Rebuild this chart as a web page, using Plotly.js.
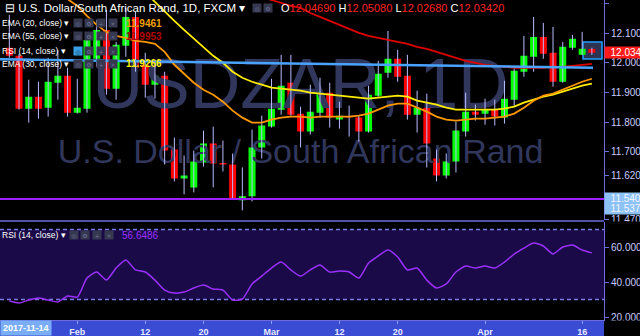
<!DOCTYPE html>
<html><head><meta charset="utf-8">
<script src="https://cdn.plot.ly/plotly-3.0.1.min.js"></script>
<style>html,body{margin:0;padding:0;background:#000;overflow:hidden}#chart{width:640px;height:336px}</style>
</head><body><div id="chart"></div>
<script>
const dates = ['2018-01-23','2018-01-24','2018-01-25','2018-01-26','2018-01-29','2018-01-30','2018-01-31','2018-02-01','2018-02-02','2018-02-05','2018-02-06','2018-02-07','2018-02-08','2018-02-09','2018-02-12','2018-02-13','2018-02-14','2018-02-15','2018-02-16','2018-02-19','2018-02-20','2018-02-21','2018-02-22','2018-02-23','2018-02-26','2018-02-27','2018-02-28','2018-03-01','2018-03-02','2018-03-05','2018-03-06','2018-03-07','2018-03-08','2018-03-09','2018-03-12','2018-03-13','2018-03-14','2018-03-15','2018-03-16','2018-03-19','2018-03-20','2018-03-21','2018-03-22','2018-03-23','2018-03-26','2018-03-27','2018-03-28','2018-03-29','2018-03-30','2018-04-02','2018-04-03','2018-04-04','2018-04-05','2018-04-06','2018-04-09','2018-04-10','2018-04-11','2018-04-12','2018-04-13','2018-04-16','2018-04-17'];
const openP = [12.0505,12.0236,11.8451,11.8855,11.8485,11.9327,11.9562,11.8316,11.8451,12.0135,12.1111,11.9125,12.0572,12.1549,11.9933,11.9259,11.9562,11.7071,11.6094,11.5791,11.6633,11.7273,11.6616,11.6566,11.5354,11.5488,11.7138,11.7845,11.8418,11.9327,11.8283,11.7677,11.8316,11.8990,11.8081,11.8199,11.8148,11.7677,11.8889,11.9663,12.0135,11.9562,11.8249,11.8485,11.6768,11.6195,11.6667,11.7677,11.8350,11.8283,11.8418,11.8148,11.8754,11.9697,12.0202,12.0875,12.0337,11.9360,12.0505,12.0269,12.0469];
const highP = [12.1616,12.0303,11.9428,11.9360,12.0168,12.0438,11.9832,11.9461,12.1010,12.1448,12.1785,12.0707,12.1852,12.1717,12.0337,11.9966,11.9697,11.7475,11.6869,11.7037,11.7710,11.7845,11.7374,11.6936,11.6465,11.7744,11.8215,11.9461,12.0269,12.0269,11.8519,11.9259,11.9495,11.9327,11.8687,11.8552,11.8215,11.9226,12.0067,12.1077,12.0438,12.0269,11.9057,11.8956,11.7071,11.6936,11.8013,11.8990,11.8586,11.8788,11.8754,11.9394,11.9865,12.0909,12.1549,12.1347,12.1212,12.0707,12.0943,12.1044,12.0508];
const lowP = [12.0168,11.8418,11.7980,11.8114,11.8182,11.8754,11.8182,11.8283,11.8316,11.9865,11.8923,11.8754,12.0202,11.9697,11.8822,11.8788,11.6566,11.5993,11.5556,11.5623,11.6498,11.5791,11.6330,11.5371,11.5017,11.5320,11.6768,11.7811,11.8249,11.8215,11.7138,11.7576,11.8148,11.7811,11.7778,11.7508,11.7340,11.7643,11.8855,11.9495,11.9360,11.8081,11.7643,11.6465,11.5993,11.6094,11.6296,11.7508,11.8047,11.7912,11.7879,11.7946,11.8519,11.9529,11.9697,12.0135,11.9192,11.9327,12.0438,12.0260,12.0268];
const closeP = [12.0236,11.8451,11.8855,11.8451,11.9360,11.9562,11.8316,11.8485,12.0774,12.1111,11.9125,12.0606,12.1549,11.9832,11.9259,11.9562,11.7037,11.6094,11.6195,11.6667,11.7273,11.6599,11.6566,11.5387,11.5488,11.7138,11.7879,11.8451,11.9226,11.8249,11.7677,11.8350,11.8990,11.8148,11.8215,11.8148,11.7677,11.8923,11.9630,12.0135,11.9529,11.8249,11.8485,11.7273,11.6195,11.6667,11.7710,11.8350,11.8249,11.8418,11.8182,11.8788,11.9731,12.0236,12.0875,12.0303,11.9360,12.0539,12.0808,12.0471,12.0342];
const ema20 = [12.4646,12.4141,12.3636,12.3199,12.2795,12.2424,12.2155,12.1919,12.1582,12.1280,12.1044,12.0909,12.0842,12.0741,12.0707,12.0640,12.0370,11.9933,11.9630,11.9327,11.9091,11.8923,11.8687,11.8384,11.8148,11.7980,11.7980,11.8081,11.8148,11.8182,11.8182,11.8148,11.8182,11.8182,11.8182,11.8182,11.8215,11.8283,11.8418,11.8552,11.8620,11.8620,11.8485,11.8350,11.8182,11.8081,11.8047,11.8081,11.8114,11.8114,11.8148,11.8182,11.8283,11.8485,11.8720,11.8889,11.8956,11.9091,11.9226,11.9360,11.9461];
const ema30 = [12.7071,12.6734,12.6397,12.6061,12.5724,12.5387,12.5051,12.4714,12.4377,12.4040,12.3704,12.3367,12.3030,12.2694,12.2391,12.2054,12.1717,12.1414,12.1111,12.0808,12.0539,12.0236,12.0000,11.9697,11.9495,11.9360,11.9259,11.9158,11.9125,11.9091,11.9057,11.8990,11.8956,11.8923,11.8889,11.8855,11.8822,11.8788,11.8822,11.8855,11.8889,11.8855,11.8720,11.8653,11.8586,11.8485,11.8418,11.8418,11.8418,11.8418,11.8418,11.8451,11.8519,11.8653,11.8754,11.8855,11.8923,11.9024,11.9125,11.9226,11.9293];
const ema55 = [12.5724,12.5589,12.5455,12.5320,12.5185,12.5051,12.4916,12.4781,12.4646,12.4512,12.4377,12.4242,12.4108,12.3973,12.3838,12.3704,12.3569,12.3434,12.3300,12.3165,12.3030,12.2896,12.2761,12.2626,12.2492,12.2357,12.2222,12.2121,12.2020,12.1919,12.1852,12.1683,12.1549,12.1414,12.1280,12.1145,12.1010,12.0909,12.0842,12.0774,12.0707,12.0640,12.0539,12.0471,12.0370,12.0269,12.0168,12.0067,12.0000,11.9933,11.9899,11.9865,11.9832,11.9832,11.9832,11.9832,11.9865,11.9865,11.9899,11.9933,11.9966];
const rsi14 = [29.1,28.0,29.7,30.9,29.7,28.6,32.0,31.4,42.3,45.7,41.1,48.0,52.6,46.9,45.7,41.1,35.4,33.7,34.3,36.6,38.3,36.0,35.4,29.7,30.3,38.9,43.4,48.0,51.4,46.9,43.4,46.9,49.7,45.7,46.3,45.7,42.3,50.9,54.9,58.3,54.3,46.9,48.0,41.1,36.6,38.9,45.7,49.1,48.0,49.1,48.0,51.4,56.0,59.4,62.3,60.6,56.0,60.0,61.1,58.3,56.6486];
const priceTickVals = [12.2,12.1,12.0,11.9,11.8,11.7,11.62,11.47];
const priceTickText = ['12.20000','12.10000','12.00000','11.90000','11.80000','11.70000','11.62000','11.47000'];
const rsiTickVals = [60,40,20];
const rsiTickText = ['60.0000','40.0000','20.0000'];
const dateTickVals = ['2018-02-01','2018-02-12','2018-02-20','2018-03-01','2018-03-12','2018-03-20','2018-04-02','2018-04-16'];
const dateTickText = ['Feb','12','20','Mar','12','20','Apr','16'];
const supportLevels = [11.54028, 11.53705];
const trendLine = [12.0118, 11.9832];
const rsiBands = [70, 30];
const lastOHLC = ['12.04690','12.05080','12.02680','12.03420'];
const legendValues = ['11.9461','11.9953','11.9266','56.6486'];

const FONT = 'Liberation Sans, Arial, sans-serif';
const W = 604, H = 320;
const wickX = [], wickY = [];
dates.forEach((d,i)=>{ wickX.push(d,d,null); wickY.push(lowP[i],highP[i],null); });

const traces = [
  {type:'scatter',mode:'lines',x:dates,y:closeP,line:{width:0},opacity:0,hoverinfo:'skip',xaxis:'x',yaxis:'y'},
  {type:'scatter',mode:'text',x:[dates[30]],y:[11.9057],text:['USDZAR, 1D'],textposition:'middle center',
   textfont:{size:70,color:'#31375c',family:FONT},hoverinfo:'skip',cliponaxis:false,xaxis:'x',yaxis:'y'},
  {type:'scatter',mode:'text',x:[dates[30]],y:[11.6902],text:['U.S. Dollar / South African Rand'],textposition:'middle center',
   textfont:{size:34,color:'#31375c',family:FONT},hoverinfo:'skip',cliponaxis:false,xaxis:'x',yaxis:'y'},
  {type:'scatter',mode:'lines',x:wickX,y:wickY,line:{color:'#b9bcff',width:1},hoverinfo:'skip',xaxis:'x',yaxis:'y',connectgaps:false},
  {type:'candlestick',x:dates,open:openP,high:highP,low:lowP,close:closeP,xaxis:'x',yaxis:'y',
   increasing:{line:{color:'#00ff00',width:0},fillcolor:'#00ff00'},
   decreasing:{line:{color:'#ff0000',width:0},fillcolor:'#ff0000'},hoverinfo:'skip'},
  {type:'scatter',mode:'lines',x:dates,y:ema55,line:{color:'#e00000',width:1.8},hoverinfo:'skip',xaxis:'x',yaxis:'y'},
  {type:'scatter',mode:'lines',x:dates,y:ema30,line:{color:'#ffee00',width:1.8},hoverinfo:'skip',xaxis:'x',yaxis:'y'},
  {type:'scatter',mode:'lines',x:dates,y:ema20,line:{color:'#ff9800',width:1.8},hoverinfo:'skip',xaxis:'x',yaxis:'y'},
  {type:'scatter',mode:'lines',x:dates,y:rsi14,line:{color:'#9b30ff',width:1.5,shape:'spline',smoothing:0.6},hoverinfo:'skip',xaxis:'x',yaxis:'y2'}
];

function ann(px,py,text,opts){
  return Object.assign({xref:'paper',yref:'paper',x:px/W,y:1-py/H,xanchor:'left',yanchor:'middle',text:text,showarrow:false,
    font:{size:8.5,color:'#ffffff',family:FONT}},opts||{});
}
function icon(px,py,glyph,bg,fg){
  return {xref:'paper',yref:'paper',x:px/W,y:1-py/H,xanchor:'center',yanchor:'middle',text:glyph,showarrow:false,
    width:8,height:8,borderpad:0,bgcolor:bg||'#35384f',font:{size:6,color:fg||'#70739a',family:'DejaVu Sans'}};
}
const red = s => '<span style="color:#ff2424">'+s+'</span>';
const annotations = [
  ann(3,8,'⊟ U.S. Dollar/South African Rand, 1D, FXCM ▾',{font:{size:11.5,color:'#ffffff',family:FONT}}),
  icon(257,8,'◎'), icon(268,8,'⚙'),
  ann(279,8,'O'+red(lastOHLC[0])+' H'+red(lastOHLC[1])+' L'+red(lastOHLC[2])+' C'+red(lastOHLC[3]),{font:{size:11,color:'#ffffff',family:FONT}}),
  ann(0,23,'EMA (20, close) ▾'), ann(0,36,'EMA (55, close) ▾'), ann(0,51,'RSI (14, close) ▾'), ann(0,64,'EMA (30, close) ▾'),
  ann(124,23,legendValues[0],{font:{size:10,color:'#f0a000',family:FONT,weight:'bold'}}),
  ann(124,36,legendValues[1],{font:{size:10,color:'#b00000',family:FONT,weight:'bold'}}),
  ann(124,64,legendValues[2],{font:{size:10,color:'#ffee00',family:FONT,weight:'bold'}}),
  ann(0,235,'RSI (14, close) ▾'),
  ann(120,235,legendValues[3],{font:{size:10,color:'#9b30ff',family:FONT}}),
  ann(0,328,'2017-11-14',{bgcolor:'#79adf5',borderpad:2,font:{size:9,color:'#ffffff',family:FONT,weight:'bold'}}),
  {xref:'paper',yref:'y',x:1,y:Number(lastOHLC[3]),xanchor:'left',yanchor:'middle',showarrow:false,text:'\u00a0\u00a012.03420',
   align:'left',width:52,borderpad:0,bgcolor:'#ff1a1a',font:{size:10,color:'#ffffff',family:FONT}},
  {xref:'paper',yref:'y',x:1,y:supportLevels[0],xanchor:'left',yanchor:'middle',showarrow:false,text:'\u00a0\u00a011.54028',
   align:'left',width:52,borderpad:0,bgcolor:'#8cc2f7',font:{size:10,color:'#f4f6ff',family:FONT}},
  {xref:'paper',yref:'y',x:1,y:supportLevels[1],yshift:-9,xanchor:'left',yanchor:'middle',showarrow:false,text:'\u00a0\u00a011.53705',
   align:'left',width:52,borderpad:0,bgcolor:'#8cc2f7',font:{size:10,color:'#f4f6ff',family:FONT}}
];
[23,36,51,64].forEach((py,r)=>{
  annotations.push(icon(78,py,'◎', r===2?'#3aa0e6':null, r===2?'#0b2a50':null));
  annotations.push(icon(89,py,'⚙')); annotations.push(icon(101,py,'+')); annotations.push(icon(113,py,'×'));
});
[74,85,97,109].forEach((px,k)=>annotations.push(icon(px,235,['◎','⚙','+','×'][k])));

const shapes = [
  {type:'rect',xref:'paper',yref:'y2',x0:0,x1:1,y0:rsiBands[1],y1:rsiBands[0],fillcolor:'#1a0b48',line:{width:0},layer:'below'},
  {type:'line',xref:'paper',yref:'y2',x0:0,x1:1,y0:rsiBands[0],y1:rsiBands[0],line:{color:'#7a7ae6',width:1.5,dash:'4px,3px'},layer:'below'},
  {type:'line',xref:'paper',yref:'y2',x0:0,x1:1,y0:rsiBands[1],y1:rsiBands[1],line:{color:'#7a7ae6',width:1.5,dash:'4px,3px'},layer:'below'},
  {type:'rect',xref:'paper',yref:'paper',x0:0,x1:1,y0:-16/H,y1:0,fillcolor:'#3a4cd4',line:{width:0},layer:'below'},
  {type:'rect',xref:'paper',yref:'paper',x0:583/W,x1:602/W,y0:1-59/H,y1:1-42/H,fillcolor:'#2e3350',line:{color:'#1ea0ff',width:1.5},layer:'below'},
  {type:'line',xref:'paper',yref:'paper',x0:0,x1:1,y0:1-221/H,y1:1-221/H,line:{color:'#6d6de0',width:1.5},layer:'above'},
  {type:'line',xref:'paper',yref:'y',x0:0,x1:1,y0:supportLevels[0],y1:supportLevels[0],line:{color:'#9d1fff',width:2},layer:'above'},
  {type:'line',xref:'paper',yref:'y',x0:0,x1:593/W,y0:trendLine[0],y1:trendLine[1],line:{color:'#4aa3ff',width:2.5},layer:'above'},
  {type:'rect',xref:'paper',yref:'paper',x0:605/W,x1:640/W,y0:-16/H,y1:-0.6/H,fillcolor:'#000000',line:{width:0},layer:'above'},
  {type:'rect',xref:'paper',yref:'paper',x0:605/W,x1:640/W,y0:1-225/H,y1:1-221.5/H,fillcolor:'#000000',line:{width:0},layer:'above'}
];

const axisCommon = {showgrid:false,zeroline:false,showline:true,linecolor:'#6d6de0',linewidth:1,ticks:'outside',ticklen:4,tickcolor:'#6d6de0',fixedrange:true};
const layout = {
  width:640,height:336,margin:{l:0,r:36,t:0,b:16,pad:0},
  paper_bgcolor:'#000000',plot_bgcolor:'#000000',showlegend:false,
  boxgap:0.28,boxgroupgap:0,hovermode:false,
  font:{family:FONT,color:'#c8ccff'},
  xaxis:Object.assign({},axisCommon,{type:'category',categoryorder:'array',categoryarray:dates,range:[-0.96,61.25],anchor:'y2',rangeslider:{visible:false},
    tickvals:dateTickVals,ticktext:dateTickText,ticklen:3,tickcolor:'#8c9cff',tickfont:{size:9,color:'#e8eaff',family:FONT,weight:'bold'}}),
  yaxis:Object.assign({},axisCommon,{domain:[0.3125,1],range:[11.469,12.2121],side:'right',anchor:'x',
    tickvals:priceTickVals,ticktext:priceTickText,tickfont:{size:10,color:'#c8ccff',family:FONT}}),
  yaxis2:Object.assign({},axisCommon,{domain:[0,0.30625],range:[18.3,74.3],side:'right',anchor:'x',
    tickvals:rsiTickVals,ticktext:rsiTickText,tickfont:{size:10,color:'#c8ccff',family:FONT}}),
  shapes:shapes,annotations:annotations
};
Plotly.newPlot('chart',traces,layout,{staticPlot:true,displayModeBar:false});
</script></body></html>
